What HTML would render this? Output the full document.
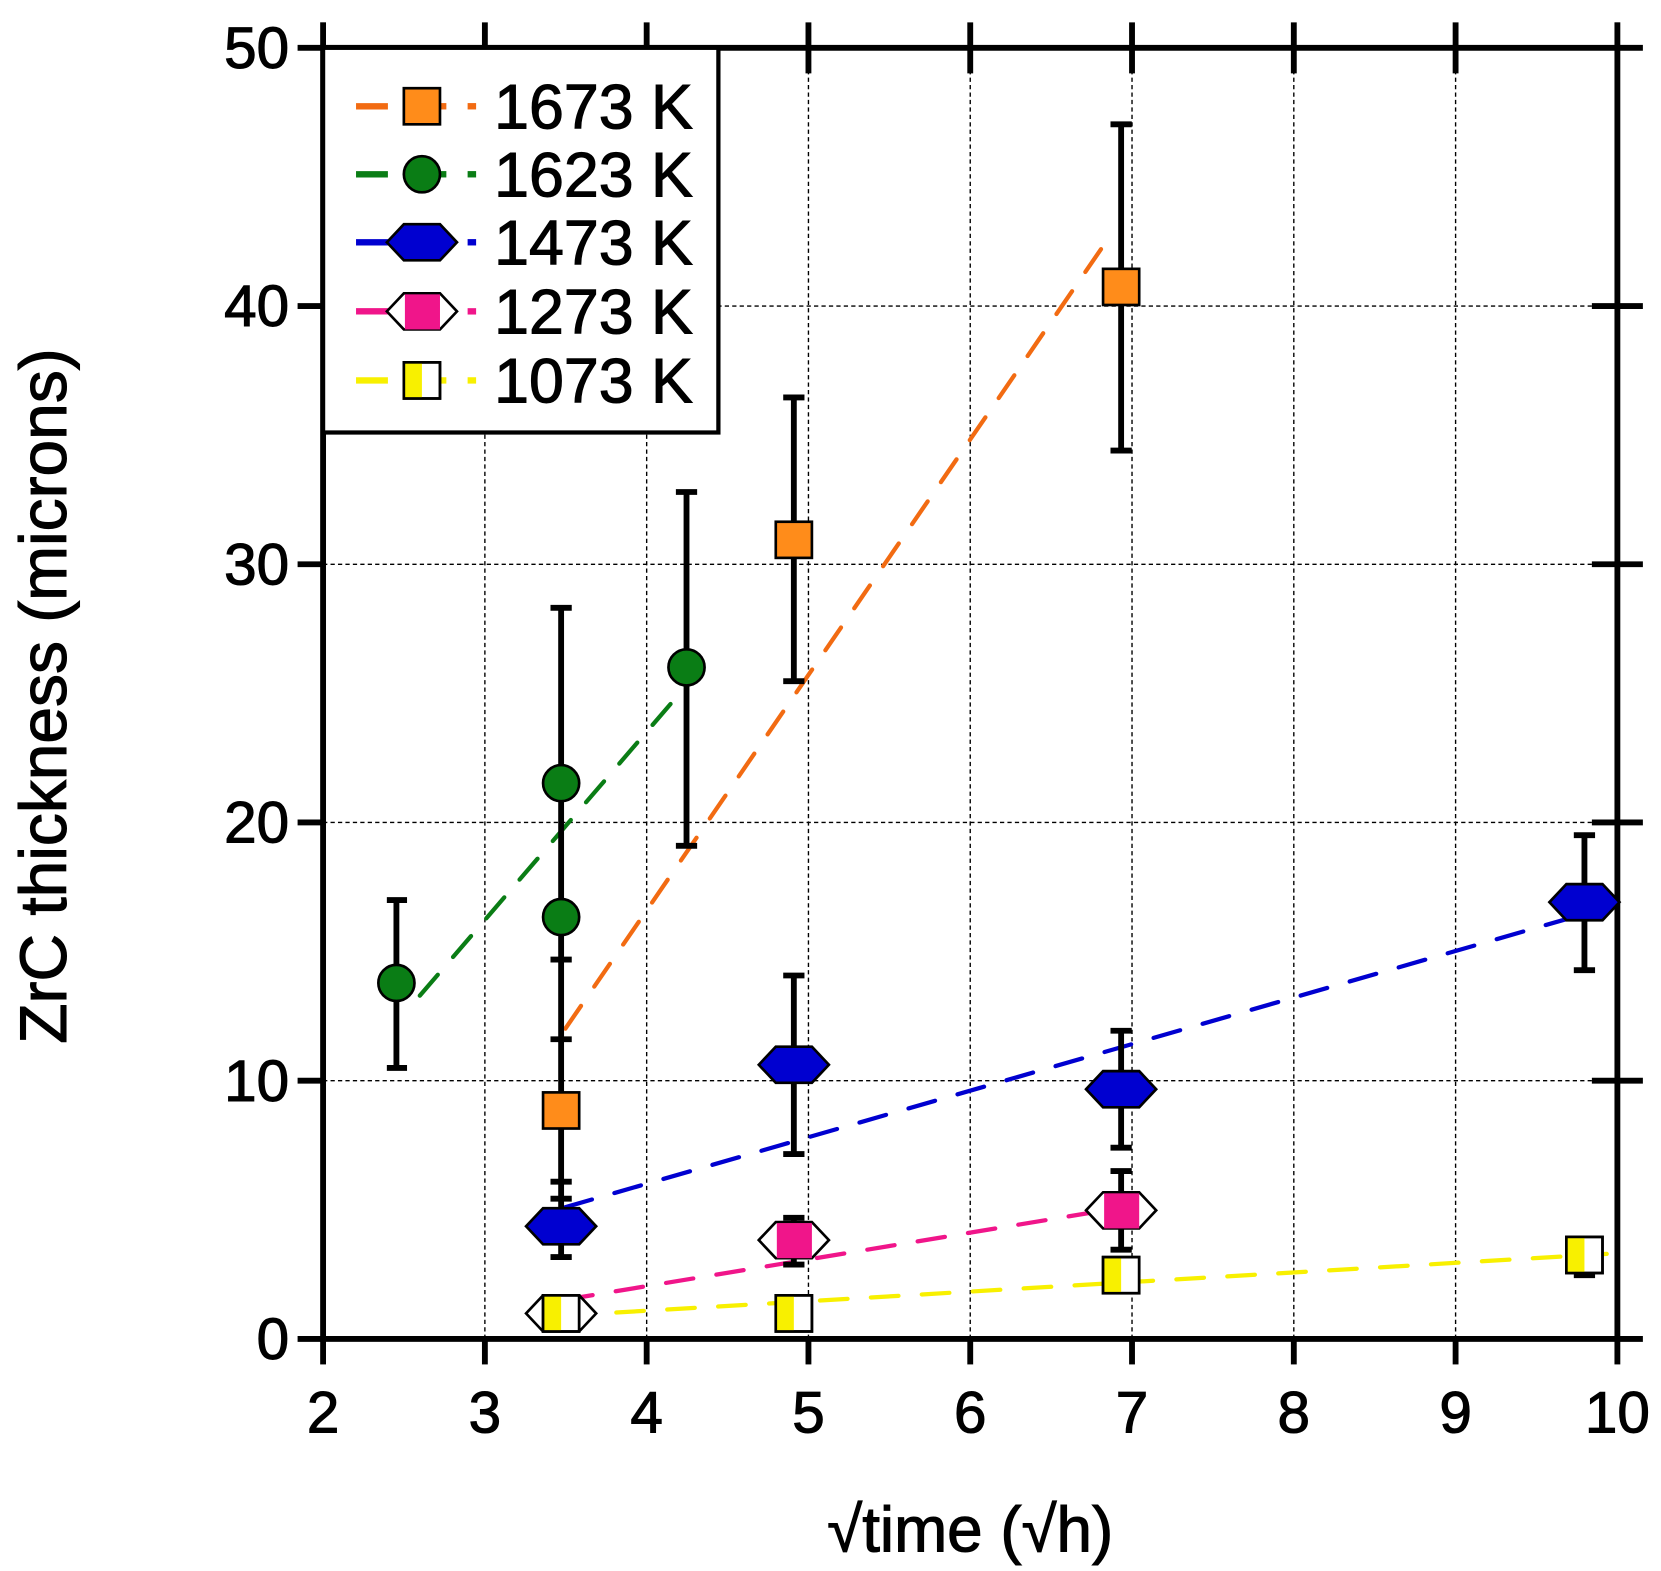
<!DOCTYPE html>
<html><head><meta charset="utf-8"><style>html,body{margin:0;padding:0;background:#fff}svg{display:block}</style></head>
<body>
<svg width="1661" height="1571" viewBox="0 0 1563 1478.4" xmlns="http://www.w3.org/2000/svg" font-family="Liberation Sans, Arial, sans-serif">
<defs>
<g id="hex"><polygon points="-33,0 -17,-17 17,-17 33,0 17,17 -17,17" stroke="#000" stroke-width="2.5"/></g>
</defs>
<!-- grid -->
<g stroke="#000" stroke-width="1.3" stroke-dasharray="4,3">
<line x1="456.25" y1="45" x2="456.25" y2="1260"/><line x1="608.5" y1="45" x2="608.5" y2="1260"/><line x1="760.75" y1="45" x2="760.75" y2="1260"/><line x1="913" y1="45" x2="913" y2="1260"/><line x1="1065.25" y1="45" x2="1065.25" y2="1260"/><line x1="1217.5" y1="45" x2="1217.5" y2="1260"/><line x1="1369.75" y1="45" x2="1369.75" y2="1260"/>
<line x1="304" y1="1017" x2="1522" y2="1017"/><line x1="304" y1="774" x2="1522" y2="774"/><line x1="304" y1="531" x2="1522" y2="531"/><line x1="304" y1="288" x2="1522" y2="288"/>
</g>
<!-- axes -->
<g stroke="#000" stroke-width="5.5" fill="none">
<rect x="304" y="45" width="1218" height="1215"/>
<g>
<line x1="280" y1="1260" x2="304" y2="1260"/><line x1="280" y1="1017" x2="304" y2="1017"/><line x1="280" y1="774" x2="304" y2="774"/><line x1="280" y1="531" x2="304" y2="531"/><line x1="280" y1="288" x2="304" y2="288"/><line x1="280" y1="45" x2="304" y2="45"/>
<line x1="1522" y1="1260" x2="1546" y2="1260"/><line x1="1498" y1="1017" x2="1546" y2="1017"/><line x1="1498" y1="774" x2="1546" y2="774"/><line x1="1498" y1="531" x2="1546" y2="531"/><line x1="1498" y1="288" x2="1546" y2="288"/><line x1="1522" y1="45" x2="1546" y2="45"/>
<line x1="304" y1="1260" x2="304" y2="1284"/><line x1="456.25" y1="1260" x2="456.25" y2="1284"/><line x1="608.5" y1="1260" x2="608.5" y2="1284"/><line x1="760.75" y1="1260" x2="760.75" y2="1284"/><line x1="913" y1="1260" x2="913" y2="1284"/><line x1="1065.25" y1="1260" x2="1065.25" y2="1284"/><line x1="1217.5" y1="1260" x2="1217.5" y2="1284"/><line x1="1369.75" y1="1260" x2="1369.75" y2="1284"/><line x1="1522" y1="1260" x2="1522" y2="1284"/>
<line x1="304" y1="21" x2="304" y2="45"/><line x1="456.25" y1="21" x2="456.25" y2="69"/><line x1="608.5" y1="21" x2="608.5" y2="69"/><line x1="760.75" y1="21" x2="760.75" y2="69"/><line x1="913" y1="21" x2="913" y2="69"/><line x1="1065.25" y1="21" x2="1065.25" y2="69"/><line x1="1217.5" y1="21" x2="1217.5" y2="69"/><line x1="1369.75" y1="21" x2="1369.75" y2="69"/><line x1="1522" y1="21" x2="1522" y2="45"/>
</g>
</g>
<!-- tick labels -->
<g font-size="55" text-anchor="end" fill="#000" stroke="#000" stroke-width="1">
<text x="272" y="1279">0</text><text x="272" y="1036">10</text><text x="272" y="793">20</text><text x="272" y="550">30</text><text x="272" y="307">40</text><text x="272" y="64">50</text>
</g>
<g font-size="55" text-anchor="middle" fill="#000" stroke="#000" stroke-width="1">
<text x="304" y="1348">2</text><text x="456.25" y="1348">3</text><text x="608.5" y="1348">4</text><text x="760.75" y="1348">5</text><text x="913" y="1348">6</text><text x="1065.25" y="1348">7</text><text x="1217.5" y="1348">8</text><text x="1369.75" y="1348">9</text><text x="1522" y="1348">10</text>
</g>
<text x="913" y="1460" font-size="60" text-anchor="middle" stroke="#000" stroke-width="1">√time  (√h)</text>
<text transform="translate(62,655) rotate(-90)" font-size="62" text-anchor="middle" stroke="#000" stroke-width="1">ZrC thickness (microns)</text>
<!-- fit lines -->
<g stroke-width="4" stroke-dasharray="26,22" stroke-linecap="round" fill="none">
<line x1="532" y1="968" x2="1046" y2="220" stroke="#f26b12"/>
<line x1="395" y1="937" x2="646" y2="645" stroke="#0a7d15"/>
<line x1="532" y1="1136" x2="1512" y2="854" stroke="#0000d0"/>
<line x1="532" y1="1223" x2="1046" y2="1138" stroke="#f0158a"/>
<line x1="532" y1="1238" x2="1512" y2="1180" stroke="#f8f000"/>
</g>
<!-- error bars -->
<g stroke="#000" stroke-width="5.5" fill="none">
<line x1="373" y1="847" x2="373" y2="1005"/><line x1="364" y1="847" x2="383" y2="847"/><line x1="364" y1="1005" x2="383" y2="1005"/>
<line x1="528" y1="572" x2="528" y2="1185"/>
<line x1="518" y1="572" x2="538" y2="572"/><line x1="518" y1="903" x2="538" y2="903"/><line x1="518" y1="978" x2="538" y2="978"/><line x1="518" y1="1112" x2="538" y2="1112"/><line x1="518" y1="1128" x2="538" y2="1128"/><line x1="518" y1="1183" x2="538" y2="1183"/>
<line x1="646" y1="463" x2="646" y2="796"/><line x1="636" y1="463" x2="656" y2="463"/><line x1="636" y1="796" x2="656" y2="796"/>
<line x1="747" y1="374" x2="747" y2="641"/><line x1="747" y1="918" x2="747" y2="1086"/><line x1="747" y1="1146" x2="747" y2="1190"/>
<line x1="737" y1="374" x2="757" y2="374"/><line x1="737" y1="641" x2="757" y2="641"/><line x1="737" y1="918" x2="757" y2="918"/><line x1="737" y1="1086" x2="757" y2="1086"/><line x1="737" y1="1146" x2="757" y2="1146"/><line x1="737" y1="1190" x2="757" y2="1190"/>
<line x1="1055" y1="117" x2="1055" y2="424"/><line x1="1055" y1="970" x2="1055" y2="1080"/><line x1="1055" y1="1102" x2="1055" y2="1176"/>
<line x1="1045" y1="117" x2="1065" y2="117"/><line x1="1045" y1="424" x2="1065" y2="424"/><line x1="1045" y1="970" x2="1065" y2="970"/><line x1="1045" y1="1080" x2="1065" y2="1080"/><line x1="1045" y1="1102" x2="1065" y2="1102"/><line x1="1045" y1="1176" x2="1065" y2="1176"/>
<line x1="1491" y1="786" x2="1491" y2="913"/><line x1="1481" y1="786" x2="1501" y2="786"/><line x1="1481" y1="913" x2="1501" y2="913"/><line x1="1481" y1="1168" x2="1501" y2="1168"/><line x1="1481" y1="1200" x2="1501" y2="1200"/>
</g>
<!-- markers -->
<g stroke="#000" stroke-width="2.5">
<rect x="511" y="1028" width="34" height="34" fill="#ff8c1a"/>
<rect x="730" y="491" width="34" height="34" fill="#ff8c1a"/>
<rect x="1038" y="253" width="34" height="34" fill="#ff8c1a"/>
<circle cx="373" cy="925" r="17" fill="#0a7d15"/>
<circle cx="528" cy="737" r="17" fill="#0a7d15"/>
<circle cx="528" cy="863" r="17" fill="#0a7d15"/>
<circle cx="646" cy="628" r="17" fill="#0a7d15"/>
</g>
<g fill="#0000d0"><use href="#hex" x="528" y="1154"/><use href="#hex" x="747" y="1002"/><use href="#hex" x="1055" y="1025"/><use href="#hex" x="1491" y="849"/></g>
<g fill="#fff"><use href="#hex" x="747" y="1167"/><use href="#hex" x="1055" y="1139"/><use href="#hex" x="528" y="1236"/></g>
<g stroke="none" fill="#f0158a"><rect x="731" y="1151" width="33" height="33"/><rect x="1039" y="1123" width="33" height="33"/></g>
<g stroke="#000" stroke-width="2.5">
<g><rect x="511" y="1219" width="34" height="34" fill="#fff"/><rect x="512" y="1220" width="16" height="32" fill="#f8f000" stroke="none"/><rect x="511" y="1219" width="34" height="34" fill="none"/></g>
<g><rect x="730" y="1219" width="34" height="34" fill="#fff"/><rect x="731" y="1220" width="16" height="32" fill="#f8f000" stroke="none"/><rect x="730" y="1219" width="34" height="34" fill="none"/></g>
<g><rect x="1038" y="1183" width="34" height="34" fill="#fff"/><rect x="1039" y="1184" width="16" height="32" fill="#f8f000" stroke="none"/><rect x="1038" y="1183" width="34" height="34" fill="none"/></g>
<g><rect x="1474" y="1164" width="34" height="34" fill="#fff"/><rect x="1475" y="1165" width="16" height="32" fill="#f8f000" stroke="none"/><rect x="1474" y="1164" width="34" height="34" fill="none"/></g>
</g>
<!-- legend -->
<rect x="304" y="45" width="372" height="362" fill="#fff" stroke="#000" stroke-width="4"/>
<g stroke-width="6">
<line x1="335" y1="100" x2="365" y2="100" stroke="#f26b12"/><line x1="410" y1="100" x2="420" y2="100" stroke="#f26b12"/><line x1="440" y1="100" x2="448" y2="100" stroke="#f26b12"/>
<line x1="335" y1="164" x2="365" y2="164" stroke="#0a7d15"/><line x1="410" y1="164" x2="420" y2="164" stroke="#0a7d15"/><line x1="440" y1="164" x2="448" y2="164" stroke="#0a7d15"/>
<line x1="335" y1="228" x2="365" y2="228" stroke="#0000d0"/><line x1="440" y1="228" x2="448" y2="228" stroke="#0000d0"/>
<line x1="335" y1="293" x2="365" y2="293" stroke="#f0158a"/><line x1="440" y1="293" x2="448" y2="293" stroke="#f0158a"/>
<line x1="335" y1="358" x2="365" y2="358" stroke="#f8f000"/><line x1="410" y1="358" x2="420" y2="358" stroke="#f8f000"/><line x1="440" y1="358" x2="448" y2="358" stroke="#f8f000"/>
</g>
<g stroke="#000" stroke-width="2.5">
<rect x="380" y="83" width="34" height="34" fill="#ff8c1a"/>
<circle cx="397" cy="164" r="17" fill="#0a7d15"/>
</g>
<use href="#hex" x="397" y="228" fill="#0000d0"/>
<use href="#hex" x="397" y="293" fill="#fff"/>
<rect x="381" y="277" width="33" height="33" fill="#f0158a"/>
<g stroke="#000" stroke-width="2.5"><rect x="380" y="341" width="34" height="34" fill="#fff"/><rect x="381" y="342" width="16" height="32" fill="#f8f000" stroke="none"/><rect x="380" y="341" width="34" height="34" fill="none"/></g>
<g font-size="59" fill="#000" stroke="#000" stroke-width="1">
<text x="465" y="121">1673 K</text><text x="465" y="185">1623 K</text><text x="465" y="249">1473 K</text><text x="465" y="314">1273 K</text><text x="465" y="379">1073 K</text>
</g>
</svg>
</body></html>
